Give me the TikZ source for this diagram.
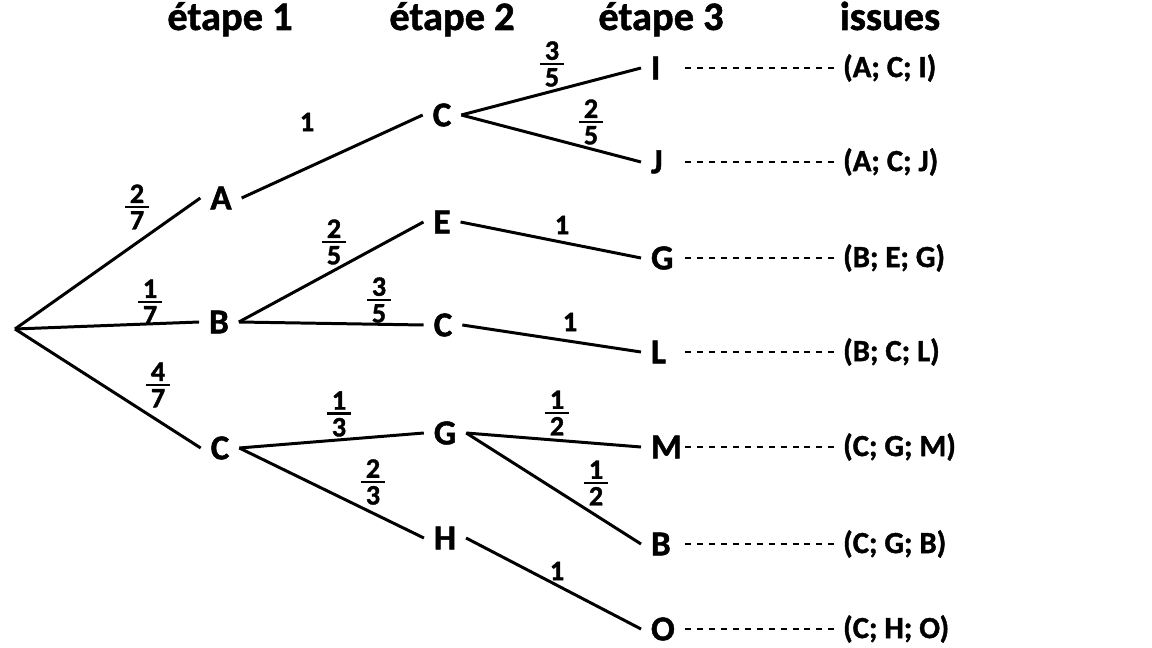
\documentclass[tikz,border=0pt]{standalone}
\usepackage{fontspec}
\setmainfont{Carlito}[BoldFeatures={FakeBold=1.3}]
\usepackage{tikz}

\newcommand{\fr}[2]{\vbox{\offinterlineskip\halign{\hfil\kern2.5pt##\kern2.5pt\hfil\cr
  #1\cr\noalign{\kern1.6pt\hrule height 1.5pt\kern1.6pt}#2\cr}}}

\begin{document}
\begin{tikzpicture}[x=0.02cm,y=-0.02cm,
    branch/.style={line width=1.7pt},
    link/.style={line width=1.7pt,dash pattern=on 3.4pt off 3.4pt},
    lvl/.style={font=\bfseries\fontsize{20}{24}\selectfont,inner xsep=5.5pt,inner ysep=1pt},
    prob/.style={font=\bfseries\fontsize{16}{19}\selectfont,inner sep=0pt},
    head/.style={font=\bfseries\fontsize{23}{27}\selectfont,anchor=base},
    issue/.style={font=\bfseries\fontsize{17.5}{21}\selectfont,anchor=west,inner xsep=5pt,inner ysep=1pt}]
  \useasboundingbox (0,0) rectangle (1152,648);
  % column titles
  \node[head] (t1) at (230,30) {étape 1};
  \node[head] (t2) at (452,30) {étape 2};
  \node[head] (t3) at (661,30) {étape 3};
  \node[head] (t4) at (890,30) {issues};
  % tree
  \coordinate (R) at (15,329);
  \node[lvl] (A1) at (221,198) {A};
  \node[lvl] (B1) at (219,322) {B};
  \node[lvl] (C1) at (220,448) {C};
  \node[lvl] (C2a) at (442,115) {C};
  \node[lvl] (E2)  at (442,222) {E};
  \node[lvl] (C2b) at (443,325) {C};
  \node[lvl] (G2)  at (445,433) {G};
  \node[lvl] (H2)  at (445,538) {H};
  \node[lvl,anchor=west] (I3) at (641,68)  {I};
  \node[lvl,anchor=west] (J3) at (641,162) {J};
  \node[lvl,anchor=west] (G3) at (641,258) {G};
  \node[lvl,anchor=west] (L3) at (641,352) {L};
  \node[lvl,anchor=west] (M3) at (641,447) {M};
  \node[lvl,anchor=west] (B3) at (641,544) {B};
  \node[lvl,anchor=west] (O3) at (641,629) {O};
  \draw[branch] (R) -- (A1.west);
  \draw[branch] (R) -- (B1.west);
  \draw[branch] (R) -- (C1.west);
  \draw[branch] (A1.east) -- (C2a.west);
  \draw[branch] (B1.east) -- (E2.west);
  \draw[branch] (B1.east) -- (C2b.west);
  \draw[branch] (C1.east) -- (G2.west);
  \draw[branch] (C1.east) -- (H2.west);
  \draw[branch] (C2a.east) -- (I3.west);
  \draw[branch] (C2a.east) -- (J3.west);
  \draw[branch] (E2.east) -- (G3.west);
  \draw[branch] (C2b.east) -- (L3.west);
  \draw[branch] (G2.east) -- (M3.west);
  \draw[branch] (G2.east) -- (B3.west);
  \draw[branch] (H2.east) -- (O3.west);
  % probabilities
  \node[prob] (p1) at (137,207) {\fr{2}{7}};
  \node[prob] (p2) at (150,302) {\fr{1}{7}};
  \node[prob] (p3) at (158,385) {\fr{4}{7}};
  \node[prob] (p4) at (307,122) {1};
  \node[prob] (p5) at (334,242) {\fr{2}{5}};
  \node[prob] (p6) at (379,300) {\fr{3}{5}};
  \node[prob] (p7) at (339,414) {\fr{1}{3}};
  \node[prob] (p8) at (373,482) {\fr{2}{3}};
  \node[prob] (p9) at (552,64)  {\fr{3}{5}};
  \node[prob] (p10) at (591,122) {\fr{2}{5}};
  \node[prob] (p11) at (562,225) {1};
  \node[prob] (p12) at (570,322) {1};
  \node[prob] (p13) at (557,413) {\fr{1}{2}};
  \node[prob] (p14) at (596,483) {\fr{1}{2}};
  \node[prob] (p15) at (557,571) {1};
  % outcomes
  \coordinate (d0) at (685,0);
  \node[issue] (iI) at (834,68)  {(A; C; I)};
  \node[issue] (iJ) at (834,162) {(A; C; J)};
  \node[issue] (iG) at (834,258) {(B; E; G)};
  \node[issue] (iL) at (834,352) {(B; C; L)};
  \node[issue] (iM) at (834,447) {(C; G; M)};
  \node[issue] (iB) at (834,544) {(C; G; B)};
  \node[issue] (iO) at (834,629) {(C; H; O)};
  \draw[link] (I3.west -| d0) -- (iI.west);
  \draw[link] (J3.west -| d0) -- (iJ.west);
  \draw[link] (G3.west -| d0) -- (iG.west);
  \draw[link] (L3.west -| d0) -- (iL.west);
  \draw[link] (M3.west -| d0) -- (iM.west);
  \draw[link] (B3.west -| d0) -- (iB.west);
  \draw[link] (O3.west -| d0) -- (iO.west);
\end{tikzpicture}
\end{document}
